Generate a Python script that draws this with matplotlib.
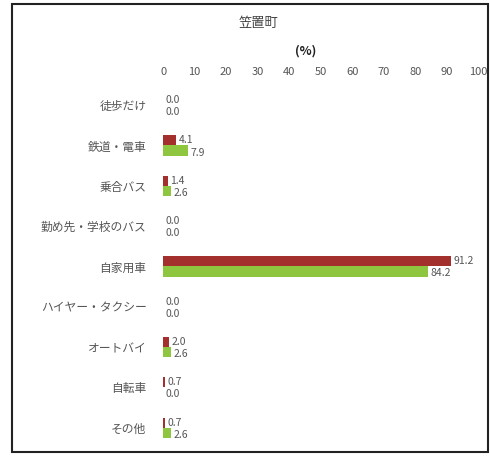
import matplotlib.pyplot as plt
from matplotlib.patches import Rectangle

plt.rcParams['font.family'] = ['Noto Sans CJK JP', 'DejaVu Sans']

categories = ["徒歩だけ", "鉄道・電車", "乗合バス", "勤め先・学校のバス", "自家用車",
              "ハイヤー・タクシー", "オートバイ", "自転車", "その他"]
red_vals = [0.0, 4.1, 1.4, 0.0, 91.2, 0.0, 2.0, 0.7, 0.7]
green_vals = [0.0, 7.9, 2.6, 0.0, 84.2, 0.0, 2.6, 0.0, 2.6]
xticks = [0, 10, 20, 30, 40, 50, 60, 70, 80, 90, 100]

red = "#a3302c"
green = "#8ec63f"
gray = "#555555"

fig = plt.figure(figsize=(4.9, 4.57), dpi=100)
ax = fig.add_axes([0.333, 0.02, 0.643, 0.794])

bh = 0.25
ys = list(range(len(categories)))
ax.barh([y - bh / 2 for y in ys], red_vals, height=bh, color=red)
ax.barh([y + bh / 2 for y in ys], green_vals, height=bh, color=green)

for y, r, g in zip(ys, red_vals, green_vals):
    ax.text(r + 0.8, y - bh / 2, f"{r:.1f}", fontsize=7.5, color=gray,
            va="center", ha="left")
    ax.text(g + 0.8, y + bh / 2 + 0.05, f"{g:.1f}", fontsize=7.5, color=gray,
            va="center", ha="left")

ax.set_xlim(0, 100)
ax.set_ylim(len(categories) - 0.5, -0.5)
ax.set_yticks(ys)
ax.set_yticklabels(categories, fontsize=8.5, color=gray)
ax.set_xticks(xticks)
ax.set_xticklabels([str(t) for t in xticks], fontsize=8, color=gray)
ax.xaxis.tick_top()
ax.tick_params(length=0, pad=12)
ax.tick_params(axis="x", pad=6)
for s in ax.spines.values():
    s.set_visible(False)

fig.text(0.527, 0.948, "笠置町", fontsize=9.5, color="#444444", ha="center", va="center")
fig.text(0.623, 0.888, "(%)", fontsize=9, color="#222222", ha="center", va="center",
         fontweight="bold")

fig.patches.append(Rectangle((0.025, 0.012), 0.97, 0.98, transform=fig.transFigure,
                             fill=False, edgecolor="#222222", linewidth=1.5))

fig.savefig("out.png", dpi=100, facecolor="white")
